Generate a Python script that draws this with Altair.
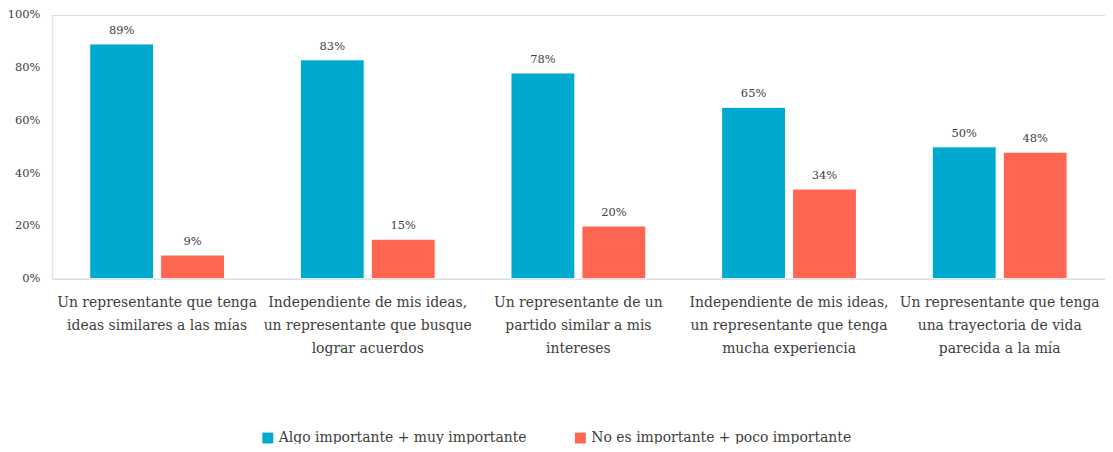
import altair as alt
import pandas as pd

categories = [
    "Un representante que tenga|ideas similares a las mías",
    "Independiente de mis ideas,|un representante que busque|lograr acuerdos",
    "Un representante de un|partido similar a mis|intereses",
    "Independiente de mis ideas,|un representante que tenga|mucha experiencia",
    "Un representante que tenga|una trayectoria de vida|parecida a la mía",
]
series = ["Algo importante + muy importante", "No es importante + poco importante"]
importante = [0.89, 0.83, 0.78, 0.65, 0.50]
no_importante = [0.09, 0.15, 0.20, 0.34, 0.48]
colors = ["#00AACE", "#FF6652"]

rows = []
for c, a, b in zip(categories, importante, no_importante):
    rows.append({"cat": c, "serie": series[0], "val": a})
    rows.append({"cat": c, "serie": series[1], "val": b})
df = pd.DataFrame(rows)

FONT = "DejaVu Serif"
TXT = "#404040"

x = alt.X("cat:N", sort=categories, title=None,
          scale=alt.Scale(paddingInner=0.36, paddingOuter=0.18),
          axis=alt.Axis(labelExpr="split(datum.label, '|')", labelAngle=0,
                        labelFont=FONT, labelFontSize=14, labelColor=TXT,
                        labelLineHeight=23, labelPadding=17, ticks=False,
                        domainColor="#D9D9D9", labelLimit=0))
y = alt.Y("val:Q", title=None,
          scale=alt.Scale(domain=[0, 1]),
          axis=alt.Axis(format=".0%", values=[0, 0.2, 0.4, 0.6, 0.8, 1.0],
                        grid=False, domain=False, ticks=False,
                        labelFont=FONT, labelFontSize=11.5, labelColor=TXT,
                        labelPadding=12))
xo = alt.XOffset("serie:N", sort=series, scale=alt.Scale(paddingInner=0.1))
color = alt.Color("serie:N", sort=series,
                  scale=alt.Scale(domain=series, range=colors),
                  legend=alt.Legend(title=None, orient="none", direction="horizontal",
                                    legendX=210, legendY=418,
                                    symbolType="square", symbolSize=120,
                                    symbolStrokeWidth=0,
                                    labelFont=FONT, labelFontSize=14,
                                    labelColor=TXT, columnPadding=46,
                                    labelLimit=0))

base = alt.Chart(df)
bars = base.mark_bar(stroke="white", strokeWidth=1).encode(x=x, y=y, xOffset=xo, color=color)
labels = base.mark_text(dy=-13, font=FONT, fontSize=11.5, color=TXT).encode(
    x=x, y=y, xOffset=xo, text=alt.Text("val:Q", format=".0%"))

chart = (bars + labels).properties(
    width=1058, height=265,
    autosize=alt.AutoSizeParams(type="none"),
    padding={"left": 44, "top": 6, "right": 0, "bottom": 165},
).configure_view(stroke=None).configure(background="white")

chart.save("out.html", embed_options={"renderer": "svg", "actions": False})
